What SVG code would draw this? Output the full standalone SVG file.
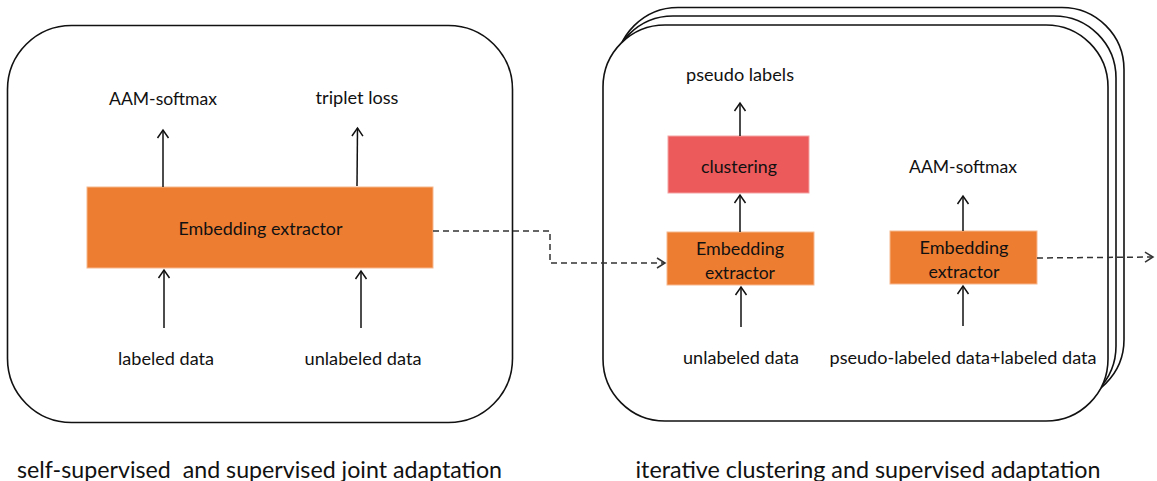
<svg xmlns="http://www.w3.org/2000/svg" width="1157" height="481" viewBox="0 0 1157 481">
<style>
.panel{fill:#fff;stroke:#111;stroke-width:1.6}
.emb{fill:#ED7D31;stroke:#F6B98E;stroke-width:1}
.clu{fill:#EC5A5C;stroke:#F4A3A3;stroke-width:1}
.lbl{font-family:Lato,"Liberation Sans",sans-serif;font-size:18px;fill:#111;text-anchor:middle;dominant-baseline:central}
.cap{font-family:Lato,"Liberation Sans",sans-serif;font-size:23px;fill:#111;text-anchor:middle;dominant-baseline:central;white-space:pre}
.arr{fill:none;stroke:#111;stroke-width:1.5;marker-end:url(#open)}
.dash{fill:none;stroke:#333;stroke-width:1.5;stroke-dasharray:6 4;marker-end:url(#openDash)}
</style>
<defs>
<marker id="open" markerUnits="userSpaceOnUse" viewBox="-10 -7 12 14" refX="0" refY="0" markerWidth="12" markerHeight="14" orient="auto">
<path d="M-8,-5.5 L0,0 L-8,5.5" fill="none" stroke="#111" stroke-width="1.5"/>
</marker>
<marker id="openDash" markerUnits="userSpaceOnUse" viewBox="-10 -7 12 14" refX="0" refY="0" markerWidth="12" markerHeight="14" orient="auto">
<path d="M-8,-5 L0,0 L-8,5" fill="none" stroke="#333" stroke-width="1.5"/>
</marker>
</defs>
<rect width="1157" height="481" fill="#fff"/>

<g id="panel-left">
<rect class="panel" x="7.5" y="25.5" width="505" height="397" rx="64" ry="64"/>
</g>
<g id="panel-right">
<rect class="panel" x="616" y="7.5" width="508" height="394" rx="62" ry="62"/>
<rect class="panel" x="611" y="16" width="505" height="392" rx="62" ry="62"/>
<rect class="panel" x="603" y="25" width="505" height="396" rx="62" ry="62"/>
</g>

<g id="emb-left">
<rect class="emb" x="87" y="187" width="346" height="81"/>
<text class="lbl" x="260.5" y="228" textLength="164" lengthAdjust="spacingAndGlyphs">Embedding extractor</text>
</g>
<g id="aam-left"><text class="lbl" x="163" y="98" textLength="108" lengthAdjust="spacingAndGlyphs">AAM-softmax</text></g>
<g id="triplet"><text class="lbl" x="357" y="97" textLength="83" lengthAdjust="spacingAndGlyphs">triplet loss</text></g>
<g id="labeled"><text class="lbl" x="166" y="358" textLength="96" lengthAdjust="spacingAndGlyphs">labeled data</text></g>
<g id="unlabeled-left"><text class="lbl" x="363" y="358" textLength="117" lengthAdjust="spacingAndGlyphs">unlabeled data</text></g>

<g id="pseudo-labels"><text class="lbl" x="740" y="74" textLength="108" lengthAdjust="spacingAndGlyphs">pseudo labels</text></g>
<g id="clustering">
<rect class="clu" x="668" y="136" width="141" height="57"/>
<text class="lbl" x="739" y="166" textLength="76" lengthAdjust="spacingAndGlyphs">clustering</text>
</g>
<g id="emb-r1">
<rect class="emb" x="667" y="232" width="147" height="53"/>
<text class="lbl" x="740" y="248" textLength="88" lengthAdjust="spacingAndGlyphs">Embedding</text>
<text class="lbl" x="740" y="272" textLength="70" lengthAdjust="spacingAndGlyphs">extractor</text>
</g>
<g id="unlabeled-right"><text class="lbl" x="741" y="357" textLength="116" lengthAdjust="spacingAndGlyphs">unlabeled data</text></g>
<g id="aam-right"><text class="lbl" x="963" y="166" textLength="108" lengthAdjust="spacingAndGlyphs">AAM-softmax</text></g>
<g id="emb-r2">
<rect class="emb" x="890" y="231" width="147" height="53"/>
<text class="lbl" x="964" y="247" textLength="89" lengthAdjust="spacingAndGlyphs">Embedding</text>
<text class="lbl" x="964" y="271" textLength="71" lengthAdjust="spacingAndGlyphs">extractor</text>
</g>
<g id="mixed-data"><text class="lbl" x="963" y="357" textLength="267" lengthAdjust="spacingAndGlyphs">pseudo-labeled data+labeled data</text></g>

<g id="caption-left"><text class="cap" x="259.5" y="469" textLength="485" lengthAdjust="spacingAndGlyphs" xml:space="preserve">self-supervised  and supervised joint adaptation</text></g>
<g id="caption-right"><text class="cap" x="868" y="469" textLength="465" lengthAdjust="spacingAndGlyphs">iterative clustering and supervised adaptation</text></g>

<g id="connectors">
<path class="arr" d="M163,187 L163,130"/>
<path class="arr" d="M357,186 L357.5,128"/>
<path class="arr" d="M164,328 L164,270"/>
<path class="arr" d="M361,328 L361,271"/>
<path class="dash" d="M433,231 H550 V263 H665"/>
<path class="arr" d="M740,232 L740,195"/>
<path class="arr" d="M740,136 L740,103"/>
<path class="arr" d="M741,327 L741,287"/>
<path class="arr" d="M963,231 L963,196"/>
<path class="arr" d="M963,326 L963,286"/>
<path class="dash" d="M1037,258 L1153,257"/>
</g>
</svg>
